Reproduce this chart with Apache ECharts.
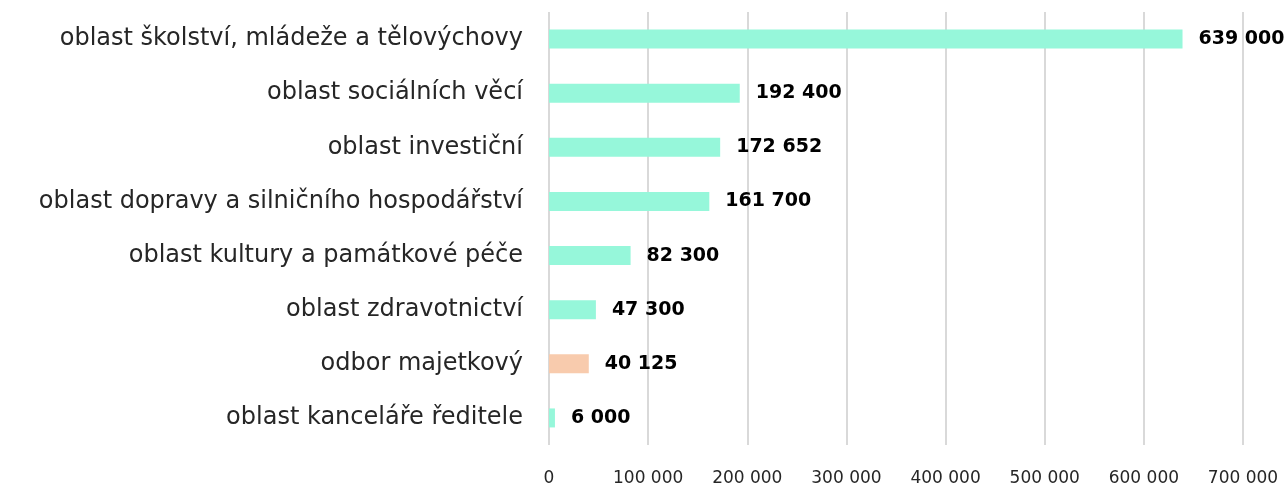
<!DOCTYPE html>
<html><head><meta charset="utf-8">
<script src="https://cdn.jsdelivr.net/npm/echarts@6/dist/echarts.min.js"></script>
<style>html,body{margin:0;padding:0;background:#fff}#c{width:1288px;height:488px}</style>
</head><body><div id="c"></div>
<script>
const categories = [
  "oblast kanceláře ředitele",
  "odbor majetkový",
  "oblast zdravotnictví",
  "oblast kultury a památkové péče",
  "oblast dopravy a silničního hospodářství",
  "oblast investiční",
  "oblast sociálních věcí",
  "oblast školství, mládeže a tělovýchovy"
];
const values = [6000, 40125, 47300, 82300, 161700, 172652, 192400, 639000];
const highlighted = ["odbor majetkový"];
const tickValues = [0, 100000, 200000, 300000, 400000, 500000, 600000, 700000];

const fmt = v => String(v).replace(/\B(?=(\d{3})+(?!\d))/g, ' ');
const FONT = '"DejaVu Sans", sans-serif';
const chart = echarts.init(document.getElementById('c'));
chart.setOption({
  animation: false,
  grid: {left: 549, right: 45, top: 12, bottom: 43, containLabel: false},
  xAxis: {
    type: 'value', min: tickValues[0], max: tickValues[tickValues.length-1], interval: 100000,
    axisLine: {show: false}, axisTick: {show: false},
    splitLine: {show: true, lineStyle: {color: '#d9d9d9', width: 2}},
    axisLabel: {formatter: fmt, color: '#262626', fontFamily: FONT, fontSize: 17, margin: 25}
  },
  yAxis: {
    type: 'category', data: categories,
    axisLine: {show: false}, axisTick: {show: false},
    axisLabel: {color: '#262626', fontFamily: FONT, fontSize: 24, margin: 26}
  },
  series: [{
    type: 'bar', barWidth: 19,
    data: values.map((v, i) => ({value: v, itemStyle: {color: highlighted.includes(categories[i]) ? '#F8CBAD' : '#96F7DA'}})),
    label: {show: true, position: 'right', distance: 16, formatter: p => fmt(p.value),
      color: '#000', fontWeight: 'bold', fontFamily: FONT, fontSize: 19}
  }]
});
</script></body></html>
